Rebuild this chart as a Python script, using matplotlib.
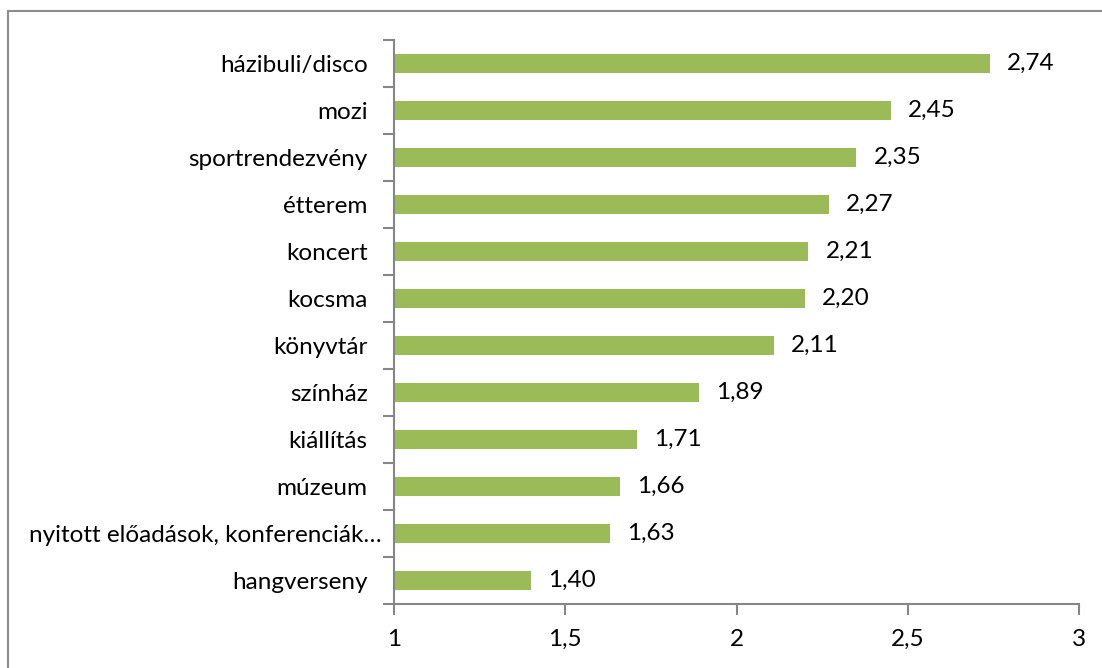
import matplotlib.pyplot as plt
from matplotlib.patches import Rectangle
from matplotlib.transforms import ScaledTranslation

categories = [
    "házibuli/disco", "mozi", "sportrendezvény", "étterem", "koncert",
    "kocsma", "könyvtár", "színház", "kiállítás", "múzeum",
    "nyitott előadások, konferenciák…", "hangverseny",
]
values = [2.74, 2.45, 2.35, 2.27, 2.21, 2.20, 2.11, 1.89, 1.71, 1.66, 1.63, 1.40]
x_ticks = [1, 1.5, 2, 2.5, 3]
x_tick_labels = ["1", "1,5", "2", "2,5", "3"]

plt.rcParams['font.family'] = ['Lato', 'DejaVu Sans']
axis_gray = '#868686'
fs = 17.5

fig = plt.figure(figsize=(11.02, 6.68), dpi=100)
ax = fig.add_axes([394 / 1102, 1 - 604 / 668, (1079 - 394) / 1102, (604 - 40) / 668])

# outer frame of the chart area (runs off right and bottom edges)
fig.patches.append(Rectangle((8 / 1102, -0.05), 1.2, 1 - 11 / 668 + 0.05,
                             transform=fig.transFigure, fill=False,
                             edgecolor='#8c8c8c', linewidth=1.5))

pos = list(range(len(categories)))
base = 1.0
ax.barh(pos, [v - base for v in values], left=base, height=0.4, color='#9BBB59')

for p, v in zip(pos, values):
    ax.text(v + 0.05, p, f"{v:.2f}".replace('.', ','), va='center', ha='left',
            fontsize=fs, color='black')

ax.set_xlim(1, 3)
ax.set_ylim(len(categories) - 0.5, -0.5)
ax.set_xticks(x_ticks)
ax.set_xticklabels(x_tick_labels, fontsize=fs)
ax.set_yticks(pos)
ax.set_yticklabels(categories, fontsize=fs)
ax.set_yticks([p - 0.5 for p in range(len(categories) + 1)], minor=True)

ax.tick_params(axis='y', which='major', length=0, pad=19)
ax.tick_params(axis='y', which='minor', length=8, width=1.5, color=axis_gray, direction='out')
ax.tick_params(axis='x', length=8, width=1.5, color=axis_gray, direction='out', pad=10)

# the truncated label sits closer to the axis, like in the original
for lbl in ax.get_yticklabels():
    if lbl.get_text().endswith('…'):
        lbl.set_transform(lbl.get_transform() + ScaledTranslation(0.14, 0, fig.dpi_scale_trans))

for side in ['top', 'right']:
    ax.spines[side].set_visible(False)
for side in ['left', 'bottom']:
    ax.spines[side].set_color(axis_gray)
    ax.spines[side].set_linewidth(1.5)

fig.savefig("out.png", dpi=100)
